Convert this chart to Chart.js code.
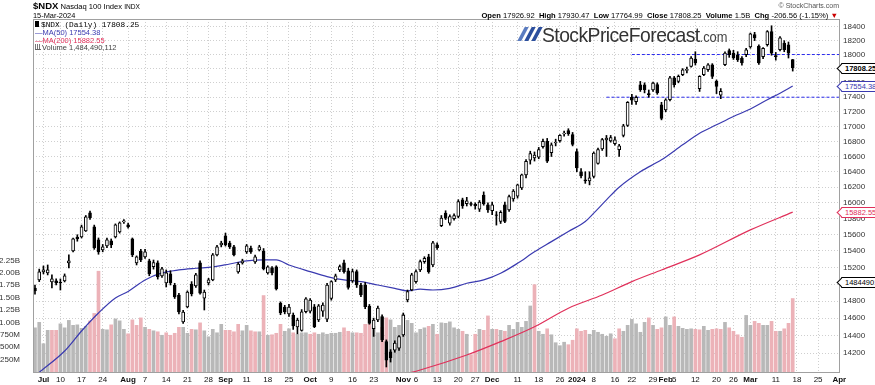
<!DOCTYPE html>
<html>
<head>
<meta charset="utf-8">
<script src="https://cdn.jsdelivr.net/npm/chart.js@4.4.1/dist/chart.umd.min.js"></script>
<style>
  html, body { margin: 0; padding: 0; background: #fff; }
  #wrap { position: relative; width: 875px; height: 385px; overflow: hidden; font-family: "Liberation Sans", Arial, sans-serif; color: #000; }
  #c { position: absolute; left: 0; top: 0; }
  .txt { position: absolute; white-space: nowrap; line-height: 1; }
  .tag { position: absolute; left: 841px; height: 9px; line-height: 9px; font-size: 7.5px; font-weight: bold; border: 1px solid #000; background: #fff; padding: 0 2px 0 3px; white-space: nowrap; }
  .tag::before { content: ""; position: absolute; left: -4px; top: 1px; width: 6px; height: 6px; background: #fff; border-left: 1px solid; border-bottom: 1px solid; border-color: inherit; transform: rotate(45deg); }
  .slash { position: absolute; top: 27px; width: 4px; height: 14px; background: #2c4f9e; transform: skewX(-28deg); }
</style>
</head>
<body>
<div id="wrap">
  <canvas id="c" width="875" height="385"></canvas>

  <div class="txt" style="left:33px;top:1px;font-size:7.6px"><b style="font-size:9.5px">$NDX</b> Nasdaq 100 Index <span style="font-size:6.6px">INDX</span></div>
  <div class="txt" style="left:33px;top:11.5px;font-size:7.4px">15-Mar-2024</div>

  <div class="txt" style="left:35px;top:21px;font-family:'Liberation Mono',monospace;font-size:7.8px"><span style="display:inline-block;width:4px;height:6px;background:#000;margin-right:2px"></span>$NDX (Daily) 17808.25</div>
  <div class="txt" style="left:35px;top:29px;font-size:7.5px;color:#3a3ab0">&#8212;MA(50) 17554.38</div>
  <div class="txt" style="left:35px;top:36.5px;font-size:7.5px;color:#e0305a">&#8212;MA(200) 15882.55</div>
  <div class="txt" style="left:35px;top:44px;font-size:7.5px;color:#444"><span style="display:inline-block;width:6px;height:5px;border-bottom:1px solid #666;background:linear-gradient(90deg,#777 0 1px,#fff 1px 2px,#777 2px 3px,#fff 3px 4px,#777 4px 5px,#fff 5px);margin-right:1px"></span>Volume 1,484,490,112</div>

  <div class="txt" style="right:36px;top:2px;font-size:7px;color:#555">&copy; StockCharts.com</div>
  <div class="txt" style="right:37px;top:12px;font-size:7.6px"><b>Open</b> 17926.92 &nbsp;<b>High</b> 17930.47 &nbsp;<b>Low</b> 17764.99 &nbsp;<b>Close</b> 17808.25 &nbsp;<b>Volume</b> 1.5B &nbsp;<b>Chg</b> -206.56 (-1.15%) <span style="color:#c00">&#9660;</span></div>

  <div class="slash" style="left:521px;background:#5b7cc0"></div>
  <div class="slash" style="left:528px"></div>
  <div class="slash" style="left:535px"></div>
  <div class="txt" style="left:542px;top:24px;font-size:21px;color:#333;letter-spacing:-0.6px;transform:scaleX(0.92);transform-origin:0 0">StockPriceForecast<span style="font-size:14px;color:#444;letter-spacing:0">.com</span></div>

  <div class="tag" id="tagClose" style="border-color:#000;color:#000">17808.25</div>
  <div class="tag" id="tagMa50" style="border-color:#3a3ab0;color:#3a3ab0;font-weight:normal">17554.38</div>
  <div class="tag" id="tagMa200" style="border-color:#e0305a;color:#e0305a;font-weight:normal">15882.55</div>
  <div class="tag" id="tagVol" style="border-color:#000;color:#000;font-weight:normal">1484490112</div>
</div>

<script>
// Trading-day slots: 0 = 29-Jun-2023 ... 179 = 15-Mar-2024
const opens = [
  14954,15050,15146,15134,15026,15038,15020,15038,15255,15400,
  15572,15572,15648,15873,15697,15536,15413,15462,15524,15572,
  15635,15760,15722,15548,15255,15400,15328,15279,15210,15255,
  15098,15014,15122,14990,14871,14556,14730,15002,14978,15255,
  14835,15014,15050,15352,15474,15585,15498,15450,15146,15255,
  15389,15437,15267,15413,15400,15134,15194,15206,14776,14730,
  14649,14637,14498,14460,14675,14680,14733,14579,14680,14587,
  14832,15050,15170,15255,15160,15038,15150,14990,14990,14741,
  14480,14579,14617,14330,14216,14235,14255,14406,14812,14930,
  15030,15170,15270,15330,15230,15474,15712,15870,15745,15800,
  15827,16038,15990,15990,15980,15920,16100,15975,15900,15850,
  15765,15975,15910,16050,16085,16190,16360,16550,16580,16590,
  16730,16800,16650,16780,16810,16900,16945,16890,16665,16400,
  16295,16280,16340,16510,16700,16820,16805,16770,16690,16880,
  17015,17400,17340,17573,17573,17450,17500,17575,17296,17227,
  17365,17670,17620,17713,17775,17830,17935,17520,17713,17784,
  17855,17620,17430,17855,18057,18020,17997,17950,17997,18110,
  18286,18120,17970,18140,18330,17985,18070,18165,18140,17926.92
];
const highs = [
  14990,15180,15218,15230,15110,15062,15062,15122,15352,15560,
  15600,15720,15840,15895,15720,15560,15480,15560,15548,15735,
  15760,15790,15745,15560,15340,15420,15420,15300,15290,15280,
  15200,15170,15160,15010,14890,14690,14920,15030,15130,15280,
  14930,15070,15370,15470,15520,15620,15520,15470,15260,15300,
  15480,15460,15350,15470,15430,15220,15210,15220,14790,14750,
  14760,14660,14600,14700,14840,14830,14760,14760,14780,15010,
  15040,15120,15230,15290,15190,15180,15170,15010,15020,14760,
  14600,14740,14640,14350,14240,14340,14400,14660,14930,15130,
  15170,15290,15330,15360,15520,15500,15840,15900,15850,15860,
  16040,16060,16070,16010,16000,16030,16140,16000,16010,15890,
  15900,16010,16100,16170,16240,16370,16560,16670,16660,16720,
  16830,16840,16780,16830,16890,16940,16970,16920,16700,16440,
  16400,16400,16660,16710,16840,16880,16880,16860,16760,17030,
  17340,17440,17420,17620,17600,17500,17610,17600,17330,17380,
  17690,17690,17710,17800,17820,17970,18040,17700,17830,17870,
  17870,17640,17520,18040,18080,18060,18040,17970,18090,18310,
  18320,18140,18100,18345,18416,18030,18260,18200,18180,17930.47
];
const lows = [
  14880,15030,15122,15110,14954,14990,14930,15026,15194,15390,
  15520,15560,15640,15790,15420,15360,15390,15440,15440,15560,
  15620,15740,15680,15330,15230,15270,15310,15100,15180,15060,
  15080,14966,14990,14830,14650,14540,14720,14860,14960,14880,
  14695,14990,15040,15340,15450,15460,15430,15340,15130,15240,
  15370,15370,15250,15400,15170,15120,15110,14930,14640,14650,
  14620,14470,14420,14450,14660,14660,14490,14560,14620,14560,
  14810,15030,15150,15130,14940,15020,14960,14850,14710,14530,
  14390,14560,14330,14045,14100,14210,14230,14390,14790,14920,
  15010,15150,15250,15130,15210,15420,15700,15790,15720,15780,
  15810,15930,15960,15960,15920,15890,15970,15880,15850,15720,
  15740,15750,15890,16020,16060,16170,16320,16500,16540,16570,
  16710,16520,16600,16740,16790,16870,16880,16740,16400,16320,
  16250,16230,16320,16500,16680,16600,16790,16750,16600,16860,
  17000,17300,17300,17480,17460,17400,17480,17440,17090,17200,
  17350,17540,17600,17700,17740,17820,17850,17480,17700,17760,
  17660,17450,17380,17840,17960,17930,17900,17850,17970,18090,
  18200,17860,17940,18120,17990,17920,18050,18040,17950,17764.99
];
const closes = [
  14918,15146,15170,15170,15062,15014,15014,15098,15279,15548,
  15548,15697,15823,15810,15438,15389,15450,15536,15474,15722,
  15747,15772,15697,15352,15328,15291,15389,15122,15260,15086,
  15182,15134,15014,14847,14672,14672,14906,14883,15110,14894,
  14906,15050,15352,15450,15498,15474,15450,15352,15242,15279,
  15462,15389,15328,15450,15182,15206,15134,14942,14660,14672,
  14730,14510,14579,14675,14825,14812,14502,14745,14753,14990,
  15030,15098,15210,15150,14960,15150,14990,14871,14733,14540,
  14579,14718,14349,14122,14150,14315,14387,14637,14910,15110,
  15150,15270,15310,15150,15500,15440,15807,15807,15827,15840,
  16017,15960,16025,15980,15965,16010,15985,15910,15975,15840,
  15880,15765,16080,16150,16230,16360,16535,16640,16620,16690,
  16800,16540,16755,16790,16880,16910,16905,16760,16450,16345,
  16280,16320,16645,16690,16825,16845,16850,16820,16740,17010,
  17330,17360,17400,17503,17503,17434,17595,17460,17110,17365,
  17670,17573,17690,17784,17790,17950,17880,17690,17808,17855,
  17690,17550,17480,18020,17997,17950,17926,17880,18069,18300,
  18240,17880,18090,18330,18020,17970,18240,18069,18020,17808.25
];
// volume, billions of shares
const volumeB = [
  0.89,1.00,0.57,0.84,0.84,0.84,0.97,0.89,1.04,0.94,
  0.95,0.88,0.92,1.03,1.18,2.03,0.86,0.85,0.95,1.07,
  1.03,0.86,0.77,1.05,0.94,1.09,0.90,0.86,0.83,0.81,
  0.74,0.79,0.74,0.78,0.90,0.90,0.78,0.86,0.85,0.99,
  0.83,0.71,0.86,0.79,0.96,0.84,0.84,0.81,0.96,0.83,
  0.94,0.83,0.81,0.81,1.54,0.74,0.75,0.78,0.96,0.82,
  0.87,0.79,0.76,0.79,0.79,0.76,0.79,0.76,0.79,0.76,
  0.78,0.78,0.80,0.89,0.82,0.79,0.79,0.78,0.96,0.96,
  0.92,0.79,0.90,1.09,1.05,0.90,0.94,1.16,1.04,0.98,
  0.79,0.86,0.89,0.92,0.96,0.76,0.99,0.98,1.01,0.89,
  0.86,0.82,0.76,0.35,0.76,0.86,0.84,1.13,0.86,0.86,
  0.84,0.82,0.94,0.86,1.00,0.90,1.02,1.33,1.76,0.82,
  0.76,0.87,0.75,0.59,0.53,0.60,0.55,0.64,0.87,0.82,
  0.84,0.76,0.84,0.80,0.76,0.72,0.77,0.67,0.87,0.82,
  0.94,1.06,0.97,0.80,1.00,1.09,0.94,0.86,0.89,1.11,
  0.94,1.11,0.92,0.88,0.86,0.87,0.86,0.85,0.92,0.84,
  0.86,0.87,0.86,1.00,0.89,0.82,0.75,0.70,1.14,0.94,
  1.02,0.98,0.94,0.94,1.02,0.82,0.82,0.87,0.98,1.48
];

// moving averages at sample slots
const ma50Slots = [1,7,11,15,19,22,26,30,34,38,42,46,50,54,57,60,65,69,73,77,81,85,88,91,94,98,102,106,110,114,118,122,126,130,132,135,138,143,148,153,157,161,165,169,173,176,179];
const ma50 = [13985,14224,14452,14660,14836,14912,15050,15134,15170,15190,15206,15242,15280,15291,15291,15230,15150,15090,15050,15030,14990,14950,14920,14940,14930,14950,15010,15050,15130,15250,15390,15515,15640,15765,15870,16038,16200,16400,16556,16755,16910,17023,17136,17238,17365,17456,17554.38];
const ma200Slots = [86,91,102,110,118,126,134,141,148,157,169,179];
const ma200 = [13950,14011,14179,14330,14500,14716,14871,15030,15170,15352,15660,15882.55];

// horizontal dashed levels
const levelStart = [141, 135];
const levelEnd = [190.2, 190.2];
const levelPrice = [18000, 17400];

// axis ticks
const priceTicks = [14200,14400,14600,14800,15000,15200,15400,15600,15800,16000,16200,16400,16600,16800,17000,17200,17400,17600,17800,18000,18200,18400];
const volTicks = [0.25,0.5,0.75,1.0,1.25,1.5,1.75,2.0,2.25];
const xTickSlots = [2,6,11,16,22,26,31,36,41,45,50,55,60,65,70,75,80,87,90,95,100,104,108,114,119,124,128,132,137,141,146,149,151,156,161,165,169,175,180,185,190];
const xTickLabels = ["Jul","10","17","24","Aug","7","14","21","28","Sep","11","18","25","Oct","9","16","23","Nov","6","13","20","27","Dec","11","18","26","2024","8","16","22","29","Feb","5","12","20","26","Mar","11","18","25","Apr"];
const boldLabels = ["Jul","Aug","Sep","Oct","Nov","Dec","2024","Feb","Mar","Apr"];

const slots = closes.map((_, i) => i);
const volColors = slots.map(i => (i > 0 && closes[i] < closes[i - 1]) ? "#ecb2b8" : "#b8b8b8");
const bodyColors = slots.map(i => closes[i] >= opens[i] ? "#fff" : "#000");

const frame = {
  id: "frame",
  afterDraw(chart) {
    const a = chart.chartArea, ctx = chart.ctx;
    ctx.save();
    ctx.strokeStyle = "#a0a0a0";
    ctx.lineWidth = 1;
    ctx.strokeRect(Math.round(a.left) + 0.5, Math.round(a.top) + 0.5, Math.round(a.right - a.left) - 1, Math.round(a.bottom - a.top));
    ctx.restore();
  }
};

const tickFont = { family: "'Liberation Sans', Arial, sans-serif", size: 8 };
// keep label overhang from shrinking the plot area
const noPad = s => { s.paddingTop = 0; s.paddingBottom = 0; s.paddingLeft = 0; s.paddingRight = 0; };

const chart = new Chart(document.getElementById("c"), {
  type: "bar",
  data: {
    datasets: [
      {
        type: "bar", label: "body", order: 1, yAxisID: "yPrice", grouped: false,
        data: slots.map(i => ({ x: i, y: [opens[i], closes[i]] })),
        backgroundColor: bodyColors, borderColor: "#000", borderWidth: 1, borderSkipped: false, barThickness: 3
      },
      {
        type: "bar", label: "wick", order: 2, yAxisID: "yPrice", grouped: false,
        data: slots.map(i => ({ x: i, y: [lows[i], highs[i]] })),
        backgroundColor: "#000", barThickness: 1
      },
      {
        type: "line", label: "MA50", order: 3, yAxisID: "yPrice",
        data: ma50Slots.map((s, k) => ({ x: s, y: ma50[k] })),
        borderColor: "#3a3ab0", borderWidth: 1.2, pointRadius: 0, cubicInterpolationMode: "monotone"
      },
      {
        type: "line", label: "MA200", order: 3, yAxisID: "yPrice",
        data: ma200Slots.map((s, k) => ({ x: s, y: ma200[k] })),
        borderColor: "#e0305a", borderWidth: 1.2, pointRadius: 0, cubicInterpolationMode: "monotone"
      },
      ...levelPrice.map((p, k) => ({
        type: "line", label: "level" + k, order: 4, yAxisID: "yPrice",
        data: [{ x: levelStart[k], y: p }, { x: levelEnd[k], y: p }],
        borderColor: "#2a2aee", borderWidth: 1, borderDash: [3, 2], pointRadius: 0
      })),
      {
        type: "bar", label: "volume", order: 10, yAxisID: "yVol", grouped: false,
        data: slots.map(i => ({ x: i, y: volumeB[i] })),
        backgroundColor: volColors, barThickness: 3
      }
    ]
  },
  options: {
    responsive: false,
    animation: false,
    events: [],
    layout: { padding: { top: 19, left: 0, right: 0, bottom: 0 } },
    plugins: { legend: { display: false }, tooltip: { enabled: false } },
    scales: {
      x: {
        type: "linear", min: -0.47, max: 190.17, offset: false,
        grid: { color: "#cfcfcf", drawTicks: false, offset: false },
        border: { display: false, dash: [1, 2] },
        afterBuildTicks: s => { s.ticks = xTickSlots.map(v => ({ value: v })); },
        afterFit: s => { s.height = 13; noPad(s); },
        ticks: {
          autoSkip: false, maxRotation: 0, padding: 3, color: "#111",
          callback: v => xTickLabels[xTickSlots.indexOf(v)],
          font: ctx => {
            const lbl = xTickLabels[xTickSlots.indexOf(ctx.tick && ctx.tick.value)];
            return Object.assign({}, tickFont, { weight: boldLabels.includes(lbl) ? "bold" : "normal" });
          }
        }
      },
      yPrice: {
        type: "logarithmic", position: "right", min: 13989, max: 18515,
        grid: { color: "#cfcfcf", drawTicks: false },
        border: { display: false, dash: [1, 2] },
        afterBuildTicks: s => { s.ticks = priceTicks.map(v => ({ value: v })); },
        afterFit: s => { s.width = 35; noPad(s); },
        ticks: { padding: 3, color: "#333", font: tickFont, callback: v => String(v) }
      },
      yVol: {
        type: "linear", position: "left", min: 0, max: 7.111,
        grid: { display: false, drawTicks: false },
        border: { display: false },
        afterBuildTicks: s => { s.ticks = volTicks.map(v => ({ value: v })); },
        afterFit: s => { s.width = 33; noPad(s); },
        ticks: {
          padding: 13, color: "#333", font: tickFont,
          callback: v => v < 1 ? Math.round(v * 1000) + "M" : v.toFixed(2) + "B"
        }
      }
    }
  },
  plugins: [frame]
});

// right-hand value tags, placed through the chart's own scales
const yP = chart.scales.yPrice, yV = chart.scales.yVol;
function placeTag(id, px) { document.getElementById(id).style.top = (px - 5.5) + "px"; }
placeTag("tagClose", yP.getPixelForValue(closes[closes.length - 1]));
placeTag("tagMa50", yP.getPixelForValue(ma50[ma50.length - 1]));
placeTag("tagMa200", yP.getPixelForValue(ma200[ma200.length - 1]));
placeTag("tagVol", yV.getPixelForValue(volumeB[volumeB.length - 1]) - 16);
</script>
</body>
</html>
